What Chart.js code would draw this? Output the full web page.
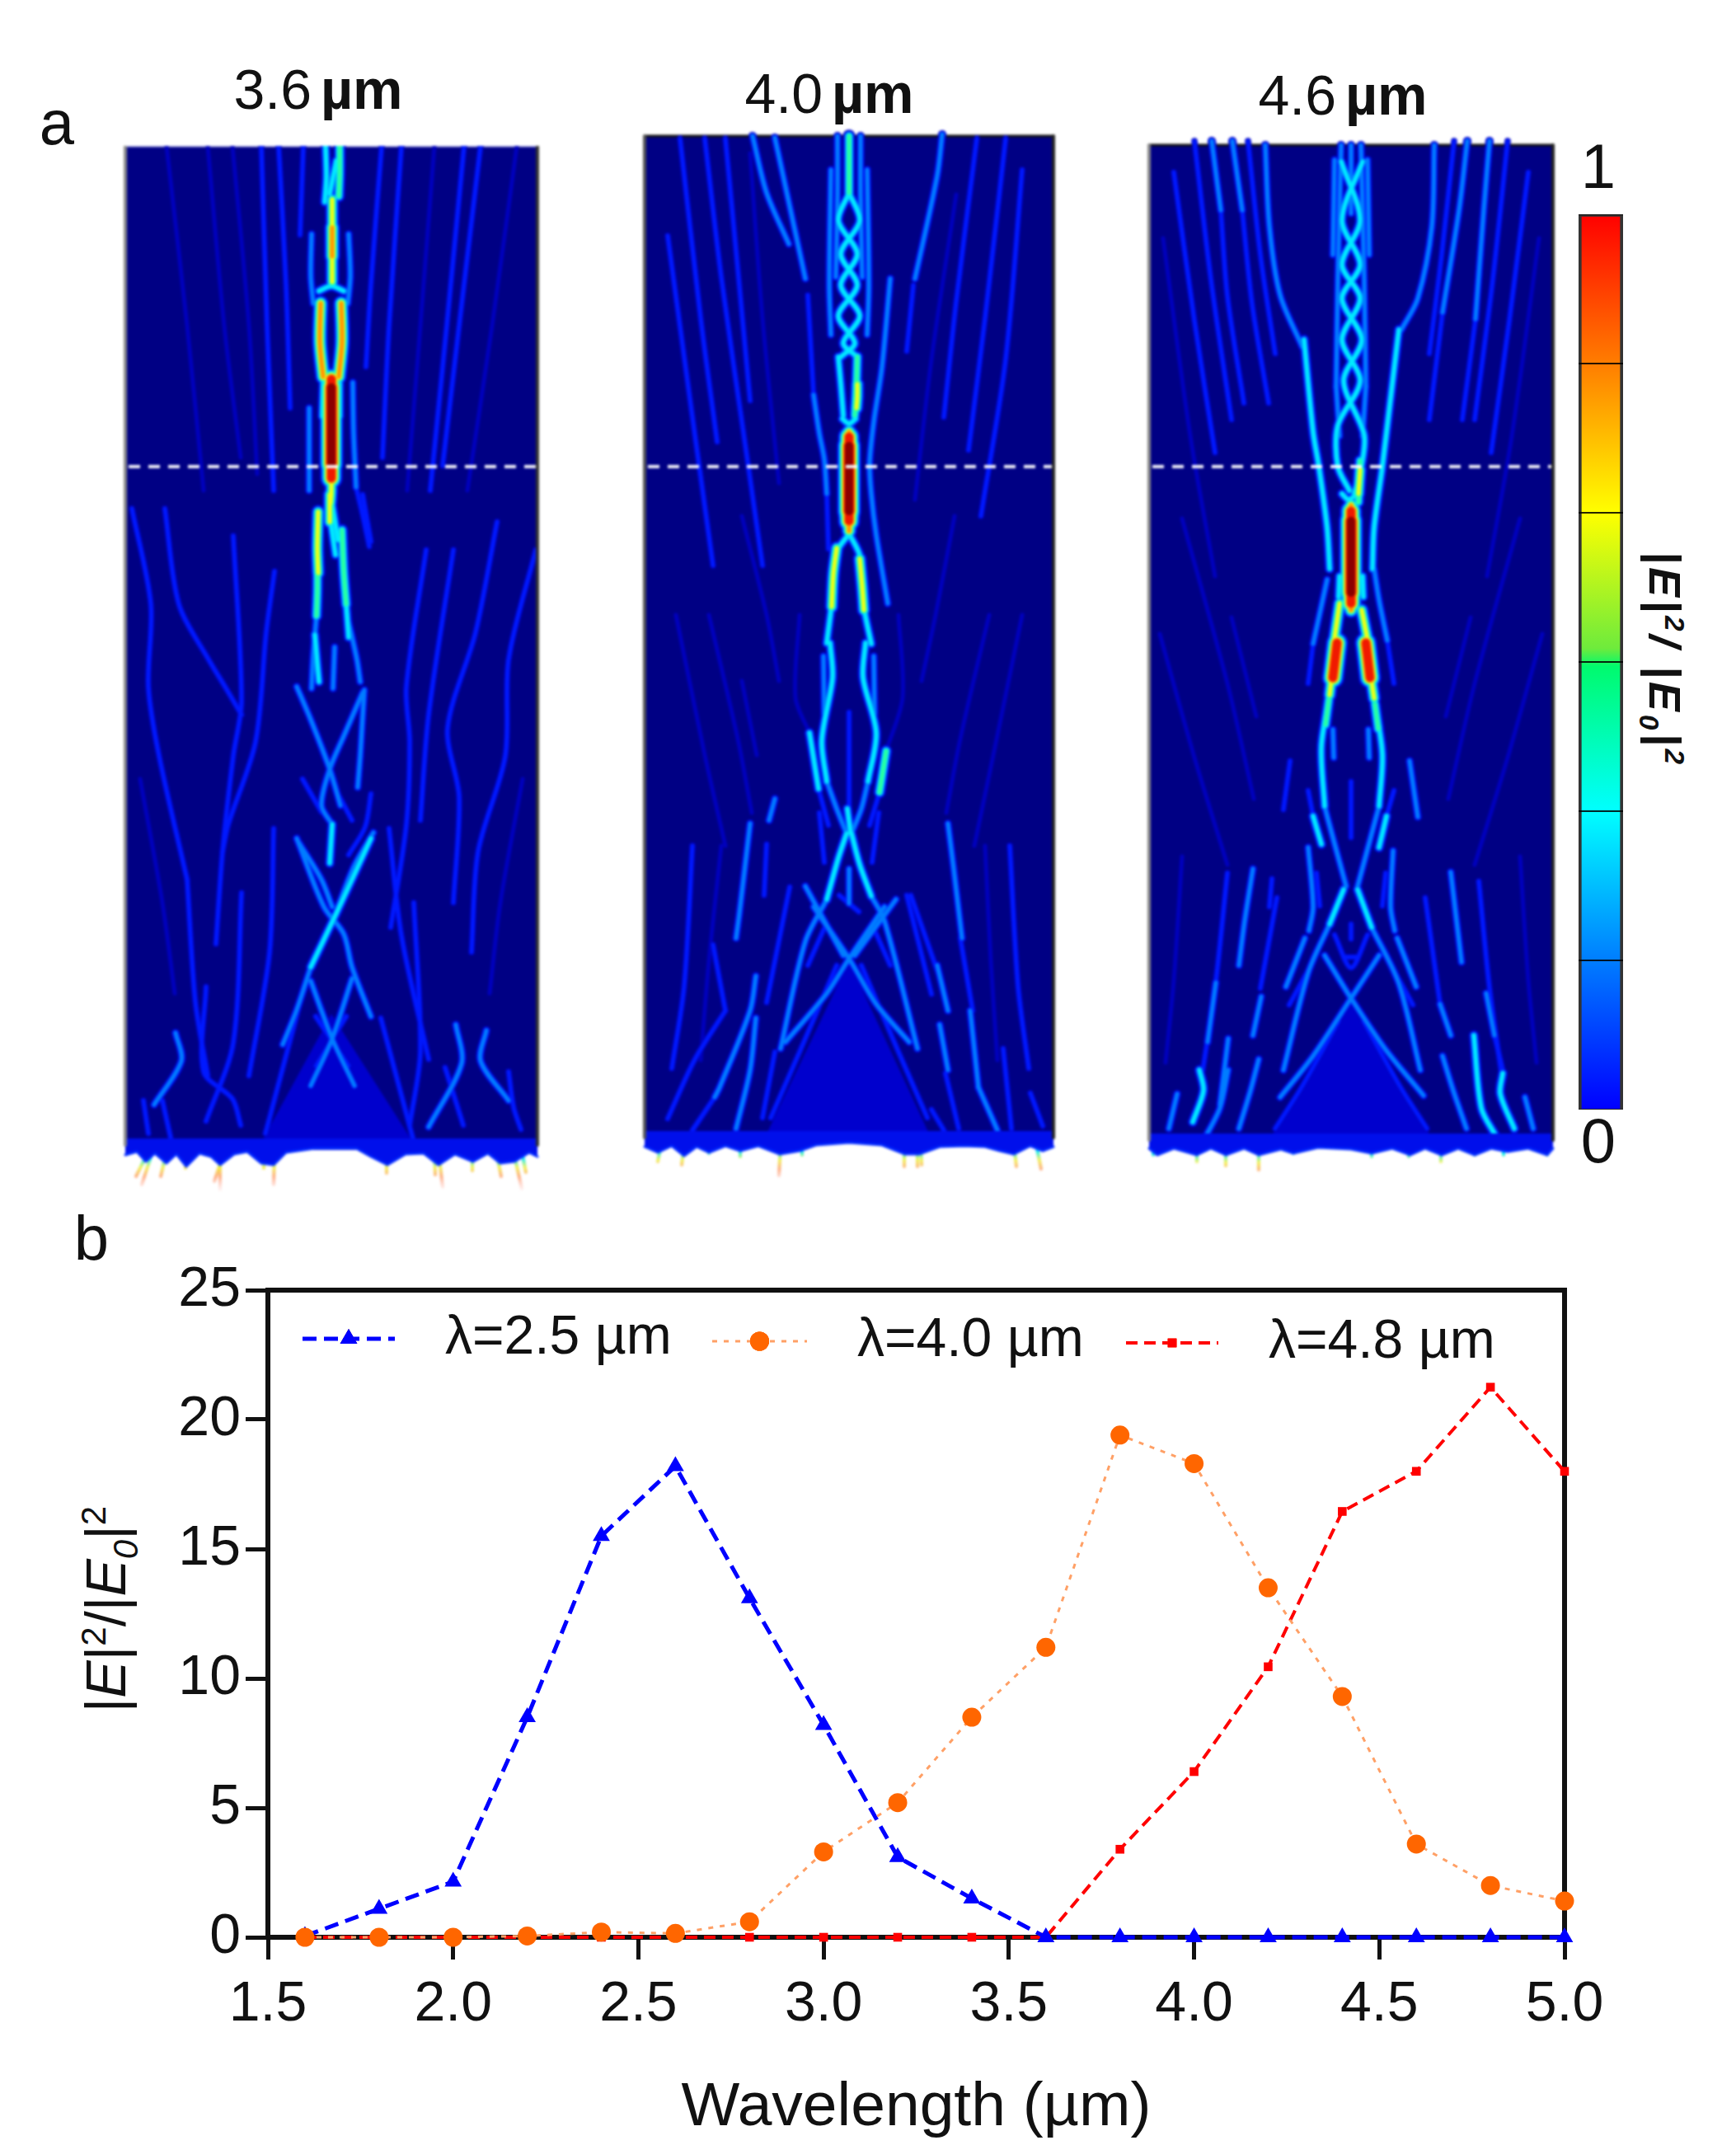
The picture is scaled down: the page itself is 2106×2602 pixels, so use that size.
<!DOCTYPE html>
<html>
<head>
<meta charset="utf-8">
<title>Field maps and enhancement spectra</title>
<script src="https://cdn.jsdelivr.net/npm/chart.js@4"></script>
<style>
  html, body { margin: 0; padding: 0; background: #fff; }
  body { width: 2106px; height: 2602px; position: relative; overflow: hidden; font-family: "Liberation Sans", Arial, sans-serif; color: #111; }
  canvas { position: absolute; display: block; }
  .map { filter: blur(1.7px); }
  .txt { position: absolute; white-space: nowrap; transform: translate(-50%, -50%); line-height: 1; }
  .rot { transform: translate(-50%, -50%) rotate(-90deg); }
  .rotcw { transform: translate(-50%, -50%) rotate(90deg); }
  sup, sub { font-size: 62%; line-height: 0; }
</style>
</head>
<body>
<div class="txt" style="left:69px;top:149px;font-size:76px">a</div>
<div class="txt" style="left:111px;top:1502px;font-size:76px">b</div>
<div class="txt" style="left:386px;top:108px;font-size:68px">3.6 <b style="margin-left:-8px">µm</b></div>
<div class="txt" style="left:1006px;top:113px;font-size:68px">4.0 <b style="margin-left:-8px">µm</b></div>
<div class="txt" style="left:1629px;top:115px;font-size:68px">4.6 <b style="margin-left:-8px">µm</b></div>
<div class="txt" style="left:1939px;top:202px;font-size:76px">1</div>
<div class="txt" style="left:1939px;top:1384px;font-size:76px">0</div>
<div class="txt rotcw" style="left:2020px;top:800px;font-size:54px;letter-spacing:4px"><b><i>|E|<sup>2</sup>/ |E<sub>0</sub>|<sup>2</sup></i></b></div>
<div class="txt rot" style="left:128px;top:1952px;font-size:68px">|<i>E</i>|<sup>2</sup>/|<i>E<sub>0</sub></i>|<sup>2</sup></div>

<canvas id="map36" class="map"></canvas>
<canvas id="map40" class="map"></canvas>
<canvas id="map46" class="map"></canvas>
<canvas id="colorbar"></canvas>
<canvas id="spectra"></canvas>

<script>
// ---- panel b values ----
const wavelengths = [1.6, 1.8, 2.0, 2.2, 2.4, 2.6, 2.8, 3.0, 3.2, 3.4, 3.6, 3.8, 4.0, 4.2, 4.4, 4.6, 4.8, 5.0];
const enh25 = [0.05, 1.1, 2.15, 8.5, 15.5, 18.2, 13.1, 8.2, 3.1, 1.5, 0, 0, 0, 0, 0, 0, 0, 0];
const enh40 = [0, 0, 0, 0.05, 0.2, 0.15, 0.6, 3.3, 5.2, 8.5, 11.2, 19.4, 18.3, 13.5, 9.3, 3.6, 2.0, 1.4];
const enh48 = [0, 0, 0, 0, 0, 0, 0, 0, 0, 0, 0, 3.4, 6.4, 10.45, 16.45, 18, 21.25, 18];
const seriesNames = ['λ=2.5 µm', 'λ=4.0 µm', 'λ=4.8 µm'];
const xTickStep = 0.5;
const yTickStep = 5;
const colorbarStep = 1 / 6;

// ---- panel a, field ridges: [peak level 0-8, x, z, x, z, ...]
// x = offset from the axis, z = height above the lower edge of the map
const ridges36 = [
  // hot core
  [3, -7,1218, -6,1180, -8,1150], [4, 10,1218, 10,1185, 9,1157], [3, 6,1200, -2,1160],
  [5, 1,1153, 1,1100, 1,1053], [6, 1,1119, 1,1084],
  [2, -24,1111, -25,1060, -22,1027], [2, 21,1111, 23,1060, 20,1027],
  [3, -15,1042, 0,1048, 15,1042],
  [6, -13,1027, -14,980, -10,938], [6, 12,1027, 13,980, 9,938],
  [7, 0,935, 0,880, 0,815], [8, 0,925, 0,880, 0,832], [5, 0,940, 0,800, -1,785], [3, -10,930, -11,890], [3, 10,930, 10,890],
  [2, -27,900, -27,850, -27,800], [2, 26,931, 27,870, 30,804], [1, 30,804, 38,770, 46,732],
  [5, -16,774, -17,730, -16,700], [4, -17,715, -17,680, -18,648], [5, -2,795, -2,762], [3, -2,770, 5,722],
  [4, 13,752, 15,702, 18,662], [3, 18,662, 21,622], [3, -20,625, -17,590, -15,568], [3, 0,790, 8,740],
  [2, -18,648, -22,600, -24,560], [2, 21,640, 31,595, 35,568], [2, 2,560, 4,610],
  [2, -42,562, -25,522, -2,462, 11,418], [2, 38,555, 15,502, -2,462, -12,418, 1,395], [3, 1,395, -2,348],
  [2, 40,558, 37,510, 35,478, 32,440], [2, -39,372, -12,328, 1,295], [2, 51,385, 28,345, 8,295], [1, 48,432, 41,392, 21,358], [1, 8,432, 25,400], [1, -35,450, -12,410],
  [3, 48,378, 5,285, -25,222], [2, -25,222, -42,170, -59,128], [2, -42,378, -9,295, 15,262, 25,222, 48,162],
  [2, -25,205, 1,135, 28,78], [2, 25,208, 1,135, -25,78], [1, -19,162, 21,102], [1, 18,162, -19,102], [1, -35,190, -80,20], [1, 60,160, 100,10],
  // side ridges near the foot
  [2, -189,142, -182,108, -215,55], [1, -152,198, -155,95, -120,62, -110,30], [1, -109,312, -119,130, -152,35],
  [2, 151,152, 158,105, 118,28], [2, 188,145, 181,108, 215,60], [1, 215,95, 221,52, 230,25], [1, 100,300, 108,120, 95,30], [1, -228,60, -222,20], [1, -205,60, -195,15], [1, 138,100, 160,30],
  // faint fan
  [1, -85,1218, -78,1000, -70,800], [1, -64,1218, -55,1050, -50,900], [1, -34,1218, -38,1110], [1, 61,1218, 48,1050, 42,950], [1, 85,1218, 70,1000, 62,840], [1, 161,1218, 140,1000, 120,800], [1, 181,1218, 155,1000, 135,830],
  [0, -150,1218, -130,1000, -110,840], [0, -200,1218, -175,1000, -155,800], [0, 125,1218, 108,1000, 92,800], [0, 225,1218, 195,1000, 165,800], [0, -120,1218, -100,1000, -90,820],
  [1, -242,778, -219,662, -222,562, -209,478, -175,328], [1, -202,778, -185,662, -149,595, -129,562, -109,528], [1, -119,745, -109,545, -119,478, -132,362, -140,250],
  [1, -69,702, -79,628, -92,495, -125,395, -132,362], [1, 38,795, 48,738], [1, 115,728, 91,562, 95,495, 91,395, 72,270], [1, 201,762, 175,628, 141,512, 155,428, 148,300],
  [1, 248,728, 215,595, 211,478, 178,362, 170,240], [1, 148,728, 118,528, 108,400], [1, -175,328, -165,180, -150,90], [0, -232,450, -205,300, -190,190], [0, 232,450, 205,300, 192,190], [1, -70,390, -75,240, -100,90], [1, 70,390, 85,260, 118,110]
];
const ridges40 = [
  // axis column
  [4, 0,1221, 0,1190, 0,1152], [2, -14,1221, -14,1150, -16,1050], [2, 14,1221, 14,1150, 16,1050], [2, -22,1180, -24,1040, -22,980], [2, 22,1180, 24,1040, 22,980],
  [3, 0,1152, -13,1118, 10,1078, -10,1040, 13,1003, -7,970, 10,953], [3, 0,1152, 13,1118, -10,1078, 10,1040, -13,1003, 7,970, -10,953],
  [3, -13,953, -10,920, -7,882], [4, 10,953, 9,920, 7,882], [5, 10,920, 10,905, 9,891], [3, -8,878, 0,872, 8,878],
  [6, 0,862, 0,800, 0,742], [7, 0,856, 0,800, 0,754], [8, 0,845, 0,805, 0,766], [3, -7,850, -8,760], [3, 7,850, 8,760],
  // branches under the focus
  [3, -1,737, -15,716, -21,654, -27,606], [5, -15,721, -19,690, -21,650], [3, 1,737, 13,712, 18,650, 27,605], [5, 13,708, 16,675, 18,646],
  [3, -23,606, -20,564, -33,488, -27,438], [2, -27,438, -15,405, -3,375], [2, -31,590, -30,520], [3, 20,606, 17,564, 33,497, 23,438], [2, 23,438, 15,405, 3,375], [2, 30,590, 31,520],
  [3, -48,497, -37,429], [4, 45,475, 37,425], [1, -37,429, -25,385], [1, 37,425, 25,385], [0, -60,640, -65,540, -48,497], [0, 60,640, 65,540, 45,475],
  // side arms
  [2, -43,907, -36,860, -30,829, -27,787], [1, -27,787, -25,720], [1, -50,1028, -43,907], [2, -117,1221, -100,1152, -73,1090], [2, -90,1219, -80,1173, -53,1048],
  [2, 50,1048, 40,941, 30,874, 25,824, 27,787, 33,737, 47,654], [2, 113,1223, 107,1173, 80,1048], [1, 78,1040, 70,960],
  [1, 0,522, 0,460, 0,395], [2, 0,332, 0,290], [3, -2,405, 2,375], [1, -36,400, -30,340], [1, 36,400, 28,340],
  // crossings
  [3, -3,375, -13,345, -27,295], [2, -27,295, -53,244, -83,114], [3, 3,375, 13,337, 27,299], [2, 27,299, 43,269, 83,114],
  [2, 43,286, 0,223, -27,181, -77,122], [2, -43,286, 0,223, 33,168, 73,122], [2, -53,311, -7,227], [2, 57,295, 7,227], [1, -12,300, 12,280], [1, 30,260, 50,215], [1, -30,260, -50,215], [1, 75,300, 110,200],
  [1, -15,215, -60,110, -95,30], [1, 15,215, 60,110, 95,30],
  // outer groups
  [2, -120,387, -133,278, -137,248], [2, -97,391, -90,417], [1, -100,362, -103,300], [2, -113,202, -120,160, -157,67, -163,55], [2, -113,151, -120,88, -137,17], [1, -150,160, -187,101, -220,29], [1, -165,240, -150,160],
  [2, 120,387, 127,332, 137,248], [2, 107,215, 120,160], [2, 110,143, 120,88], [2, 147,160, 157,67], [2, 157,67, 180,15], [1, 117,84, 133,17], [1, 187,114, 197,17], [1, 135,248, 150,160], [1, -90,110, -105,30], [1, -163,55, -190,15], [1, 220,60, 235,20], [1, 100,40, 115,15],
  [1, -72,310, -100,170], [1, 70,300, 100,180],
  // faint fan
  [1, -175,1218, -155,1050, -125,840, -105,700], [1, -150,1218, -135,1060, -120,900], [1, -205,1218, -180,1000, -160,850], [1, 155,1218, 130,1020, 115,880], [1, 190,1218, 165,1000, 145,840], [1, 210,1180, 190,950, 160,760], [1, -220,1100, -190,880, -165,700],
  [0, -120,1200, -105,1000, -85,800], [0, 130,1150, 100,950, 80,780], [0, -130,760, -100,640, -85,560], [0, 128,760, 105,640, 88,560], [0, -170,640, -135,490, -118,400], [0, 170,640, 135,490, 118,400], [0, -210,640, -175,470, -150,360], [0, 210,640, 175,470, 152,360], [0, -130,560, -112,470],
  [1, -190,360, -200,190, -215,90], [1, 195,360, 205,190, 218,90], [0, -155,360, -170,220, -180,100], [0, 165,360, 172,220, 180,100]
];
const ridges46 = [
  // axis column
  [2, -12,1213, -16,1050, -18,920], [2, 12,1213, 16,1050, 18,920], [2, -20,1195, -22,1080], [2, 20,1195, 22,1080], [2, 0,1213, 0,1130], [2, -18,920, -14,860], [2, 18,920, 14,860],
  [3, -12,1193, 11,1122, -11,1068, 11,1027, -11,977, 11,927, -16,873, -16,823, -2,794], [3, 14,1193, -11,1122, 11,1068, -11,1027, 13,977, -9,927, 16,861, 11,815, 4,790],
  [5, 11,819, 10,805, 9,790], [4, 11,830, 9,780], [3, -11,790, -3,783, 8,790],
  [6, 0,776, 0,710, 0,649], [7, 0,769, 0,710, 0,657], [8, 0,757, 0,712, 0,670], [3, -7,760, -7,660], [3, 7,760, 7,660],
  // branches under the focus
  [3, -14,690, -15,665], [3, 14,690, 15,665], [5, -14,657, -21,608], [5, 13,649, 21,608], [7, -17,609, -22,567], [7, 18,609, 23,567], [5, -22,580, -26,546], [5, 23,575, 28,542],
  [3, -26,546, -36,483, -32,411], [4, -27,540, -31,510], [4, 29,535, 33,505], [3, 28,542, 38,474, 34,411], [2, -22,504, -21,470], [2, 21,504, 22,470], [2, -32,411, -29,399, -6,314], [2, 34,411, 8,314],
  [1, 0,441, 0,373], [1, 0,268, 0,250], [3, -46,399, -36,365], [3, 43,399, 34,361], [1, -52,430, -46,399], [1, 52,430, 43,399],
  [2, -52,361, -46,289, -51,260], [2, 51,357, 48,289, 53,260], [1, -42,330, -38,290], [1, 42,330, 38,290],
  // side arms
  [3, -57,977, -46,865, -39,823, -29,749, -26,699], [3, 58,989, 48,906, 38,823, 28,749, 26,699], [2, 28,699, 34,661, 44,612], [2, -29,686, -46,608], [1, 44,612, 52,560], [1, -46,608, -52,560],
  [2, -169,1218, -158,1134], [2, -144,1218, -132,1134], [2, -104,1213, -99,1114, -86,1031, -59,968], [2, 101,1213, 98,1114, 81,1027, 61,989], [2, 141,1218, 131,1134, 111,1010], [2, 168,1218, 161,1134, 151,1002],
  [1, -158,1134, -150,1030, -130,900], [1, -132,1134, -120,1020, -100,900], [1, 111,1010, 95,880], [1, 151,1002, 135,880],
  // crossings
  [3, -9,310, -26,268], [2, -26,268, -52,209, -82,91], [3, 8,310, 25,264], [2, 25,264, 58,196, 84,91], [2, -56,251, -79,192], [2, 56,251, 79,192], [2, 34,230, 0,178, -46,108, -86,58], [2, -32,230, 0,178, 41,117, 88,60], [1, -20,255, 0,215, 20,255], [1, -8,228, 8,228],
  [1, -15,150, -60,70, -92,20], [1, 15,150, 60,70, 92,20], [1, -75,170, -45,225], [1, 75,170, 45,225],
  // outer groups
  [1, -74,466, -82,407], [2, -119,335, -129,272, -136,218], [1, -96,323, -99,289], [2, 71,466, 81,398], [2, 121,331, 134,222],
  [2, -164,197, -174,125], [2, -109,180, -119,133], [2, -149,129, -159,49], [3, -184,91, -179,66, -192,28], [2, -211,62, -221,20], [2, -112,104, -122,66, -136,20], [2, -149,91, -159,45, -176,11], [1, -90,300, -110,190], [1, 90,300, 108,171],
  [2, 108,171, 121,133], [2, 111,108, 124,66, 140,20], [3, 149,133, 158,45, 175,12], [3, 184,87, 181,62, 198,20], [2, 211,58, 221,20], [2, 164,184, 174,133], [1, 174,133, 185,87],
  // faint fan
  [1, -190,1218, -170,1050, -145,880], [1, -215,1180, -190,1000, -165,840], [1, 190,1218, 172,1050, 150,880], [1, 215,1180, 192,1000, 170,840], [1, 125,1218, 110,1080, 95,960], [1, -125,1218, -110,1080, -92,960],
  [0, -228,1100, -195,860, -165,690], [0, 228,1100, 195,860, 165,690], [0, -205,760, -150,560, -118,420], [0, 205,760, 150,560, 118,420], [0, -232,620, -190,470, -150,340], [0, 232,620, 190,470, 150,340], [0, -145,640, -115,520], [0, 145,640, 115,520],
  [1, -150,330, -165,190, -180,90], [1, 155,320, 168,190, 182,90], [0, -205,350, -215,200, -225,100], [0, 205,350, 215,200, 225,100]
];

// bright triangle above the grating: x, z
const wedge36 = [-90, 0, 0, 165, 105, 0];
const wedge40 = [-105, 0, 0, 220, 102, 0];
const wedge46 = [-103, 0, 0, 172, 103, 0];

// jagged lower rim: x, z
const rim36 = [-250,-6,-236,-2,-225,-14,-214,-4,-200,-16,-188,-5,-176,-20,-160,-4,-146,-8,-135,-18,-118,-5,-102,-2,-85,-16,-70,-18,-55,-3,-20,2,30,2,48,-8,68,-18,90,-5,112,-4,130,-18,150,-5,172,-14,190,-4,205,-16,222,-14,240,-3,250,-8];
const rim40 = [-248,-5,-232,-12,-215,-4,-200,-16,-185,-5,-170,-12,-150,-4,-132,-10,-110,-4,-84,-14,-60,-10,-40,-3,0,0,40,-3,68,-14,85,-14,110,-5,140,-4,165,-5,183,-10,200,-14,220,-4,235,-10,248,-5];
const rim46 = [-245,-4,-235,-12,-215,-4,-187,-12,-170,-4,-152,-12,-130,-4,-112,-12,-85,-5,-70,-10,-40,-3,0,-5,25,-10,50,-4,72,-12,90,-4,110,-12,130,-4,150,-12,170,-4,190,-8,215,-4,238,-12,245,-4];

// spikes under the rim: x at rim, x at tip, z at tip
const spikes36 = [[-222,-237,-32],[-217,-230,-42],[-200,-207,-32],[-174,-177,-22],[-135,-135,-50],[-130,-142,-38],[-69,-70,-42],[-82,-82,-22],[67,67,-28],[130,135,-45],[125,126,-30],[171,171,-25],[200,206,-32],[221,231,-47],[231,236,-27]];
const spikes40 = [[-228,-232,-23],[-200,-203,-27],[-170,-170,-13],[-132,-132,-17],[-83,-85,-40],[-57,-57,-15],[67,67,-29],[83,83,-29],[87,88,-27],[200,203,-29],[227,233,-32]];
const spikes46 = [[-240,-240,-12],[-187,-187,-20],[-152,-152,-25],[-112,-112,-30],[-70,-70,-10],[25,25,-14],[70,70,-14],[109,109,-20],[150,150,-12],[185,185,-12],[238,238,-12]];

// ---- geometry and styles ----
const mapPanels = [
  { id: 'map36', ridges: ridges36, wedge: wedge36, rim: rim36, spikes: spikes36, axisX: 402, baseY: 1395, halfW: 250, H: 1218, over: 0, dashZ: 829, left: '#8a8a8a', right: '#333', top: '#9a9ae0' },
  { id: 'map40', ridges: ridges40, wedge: wedge40, rim: rim40, spikes: spikes40, axisX: 1030, baseY: 1386, halfW: 248, H: 1221, over: 18, dashZ: 820, left: '#555', right: '#222', top: '#111' },
  { id: 'map46', ridges: ridges46, wedge: wedge46, rim: rim46, spikes: spikes46, axisX: 1639, baseY: 1389, halfW: 245, H: 1213, over: 14, dashZ: 823, left: '#888', right: '#222', top: '#111' }
];
const levelColors = ['rgb(0,0,190)', 'rgb(0,25,255)', 'rgb(0,125,255)', 'rgb(0,235,255)', 'rgb(40,255,160)', 'rgb(240,255,20)', 'rgb(255,150,0)', 'rgb(240,25,0)', 'rgb(140,0,0)'];
const margin = 6, below = 50;

function pairs(a, off) {
  const p = [];
  for (let i = off; i < a.length; i += 2) p.push({ x: a[i], y: a[i + 1] });
  return p;
}

function lineWidth(peak, level) {
  return 5 + (peak - level) * 2.6 + (peak >= 7 ? 5 : 0);
}

function spikeGradient(c) {
  const { chart } = c;
  if (!chart.chartArea) return 'rgb(0,235,255)';
  const y = chart.scales.y;
  const g = chart.ctx.createLinearGradient(0, y.getPixelForValue(0), 0, y.getPixelForValue(-below));
  g.addColorStop(0, 'rgb(0,120,255)');
  g.addColorStop(0.2, 'rgb(0,235,255)');
  g.addColorStop(0.42, 'rgba(240,240,60,0.85)');
  g.addColorStop(0.65, 'rgba(255,140,80,0.7)');
  g.addColorStop(1, 'rgba(255,170,170,0.1)');
  return g;
}

function buildMap(p) {
  const sets = [];
  const plain = { type: 'line', pointRadius: 0, borderCapStyle: 'round', borderJoinStyle: 'round' };
  // navy field
  sets.push({ ...plain, data: [{ x: -p.halfW, y: p.H }, { x: p.halfW, y: p.H }], borderWidth: 0, borderColor: 'rgba(0,0,0,0)', backgroundColor: 'rgb(0,0,132)', fill: { value: 0 }, order: 300 });
  // bright wedge and rim
  sets.push({ ...plain, data: pairs(p.wedge, 0), borderWidth: 0, borderColor: 'rgba(0,0,0,0)', backgroundColor: 'rgb(0,0,205)', fill: { value: 0 }, order: 290 });
  sets.push({ ...plain, data: pairs(p.rim, 0), borderWidth: 3, borderColor: 'rgb(0,40,255)', backgroundColor: 'rgb(0,15,235)', fill: { value: 14 }, order: 20 });
  // ridges, cool layers first
  p.ridges.forEach(r => {
    const pts = pairs(r, 1);
    for (let level = 0; level <= r[0]; level++) {
      sets.push({ ...plain, data: pts, borderColor: levelColors[level], borderWidth: lineWidth(r[0], level), tension: 0.3, order: 100 - level });
    }
  });
  p.spikes.forEach(s => {
    sets.push({ ...plain, data: [{ x: s[0], y: -2 }, { x: s[1], y: s[2] }], borderColor: spikeGradient, borderWidth: 4, order: 30 });
  });
  // dashed white line and frame
  sets.push({ ...plain, data: [{ x: -p.halfW + 4, y: p.dashZ }, { x: p.halfW + margin, y: p.dashZ }], borderColor: 'rgba(255,255,255,0.95)', borderWidth: 4, borderCapStyle: 'butt', borderDash: [14, 10], order: 10 });
  sets.push({ ...plain, data: [{ x: -p.halfW, y: 6 }, { x: -p.halfW, y: p.H }], borderColor: p.left, borderWidth: 4, order: 5 });
  sets.push({ ...plain, data: [{ x: p.halfW, y: 6 }, { x: p.halfW, y: p.H }], borderColor: p.right, borderWidth: 4, order: 5 });
  sets.push({ ...plain, data: [{ x: -p.halfW, y: p.H }, { x: p.halfW, y: p.H }], borderColor: p.top, borderWidth: 3, order: 200 });
  return sets;
}

mapPanels.forEach(p => {
  const cv = document.getElementById(p.id);
  const w = 2 * (p.halfW + margin), h = p.H + p.over + below;
  cv.width = w; cv.height = h;
  cv.style.left = (p.axisX - p.halfW - margin) + 'px';
  cv.style.top = (p.baseY - p.H - p.over) + 'px';
  cv.style.width = w + 'px'; cv.style.height = h + 'px';
  new Chart(cv, {
    type: 'line',
    data: { datasets: buildMap(p) },
    options: {
      responsive: false, animation: false, devicePixelRatio: 1, events: [],
      layout: { padding: 0 },
      plugins: { legend: { display: false }, tooltip: { enabled: false } },
      scales: {
        x: { type: 'linear', display: false, min: -p.halfW - margin, max: p.halfW + margin },
        y: { type: 'linear', display: false, min: -below, max: p.H + p.over }
      }
    }
  });
});

// ---- colour bar ----
const cb = document.getElementById('colorbar');
cb.width = 54; cb.height = 1086;
cb.style.cssText = 'left:1915px;top:260px;width:54px;height:1086px;filter:blur(0.7px)';
function barGradient(c) {
  const { chart } = c;
  if (!chart.chartArea) return '#00f';
  const g = chart.ctx.createLinearGradient(0, chart.chartArea.bottom, 0, chart.chartArea.top);
  g.addColorStop(0, 'rgb(0,0,255)');
  g.addColorStop(1 / 6, 'rgb(0,125,255)');
  g.addColorStop(2 / 6, 'rgb(0,255,255)');
  g.addColorStop(0.495, 'rgb(0,250,110)');
  g.addColorStop(0.515, 'rgb(110,235,60)');
  g.addColorStop(4 / 6, 'rgb(255,255,0)');
  g.addColorStop(5 / 6, 'rgb(255,125,0)');
  g.addColorStop(1, 'rgb(255,0,0)');
  return g;
}
new Chart(cb, {
  type: 'bar',
  data: { labels: ['|E|²/|E0|²'], datasets: [{ data: [1], backgroundColor: barGradient, borderColor: '#333', borderWidth: { left: 4, right: 4, top: 3, bottom: 2 }, barPercentage: 1, categoryPercentage: 1 }] },
  options: {
    responsive: false, animation: false, devicePixelRatio: 1, events: [],
    layout: { padding: 0 },
    plugins: { legend: { display: false }, tooltip: { enabled: false } },
    scales: {
      x: { display: false },
      y: {
        min: 0, max: 1,
        afterFit: s => { s.width = 0; },
        ticks: { display: false, stepSize: colorbarStep },
        border: { display: false },
        grid: { z: 2, drawTicks: false, color: 'rgba(0,0,0,0.85)', lineWidth: 2, tickBorderDash: [], borderDash: [10, 34] }
      }
    }
  }
});

// ---- panel b ----
const chartLeft = 325, chartRight = 1898, chartTop = 1565, chartBottom = 2350, canvasTop = 1500;
const blueLine = '#0000ff', orangeLine = '#ffa066', orangeDot = '#ff6600', redLine = '#ff0000';
const legendItems = [
  { x0: 367, x1: 479, y: 1624, tx: 540 },
  { x0: 864, x1: 979, y: 1627, tx: 1040 },
  { x0: 1366, x1: 1478, y: 1629, tx: 1539 }
];

// inline legend: sample line with its marker, then the name
const inlineLegend = {
  id: 'inlineLegend',
  afterDraw(chart) {
    const ctx = chart.ctx;
    chart.data.datasets.forEach((d, i) => {
      const it = legendItems[i], y = it.y - canvasTop;
      ctx.save();
      ctx.strokeStyle = d.borderColor; ctx.lineWidth = d.borderWidth; ctx.setLineDash(d.borderDash);
      ctx.beginPath(); ctx.moveTo(it.x0, y); ctx.lineTo(it.x1, y); ctx.stroke();
      ctx.setLineDash([]);
      Chart.helpers.drawPoint(ctx, { pointStyle: d.pointStyle, radius: d.pointRadius, borderWidth: 0 }, (it.x0 + it.x1) / 2, y);
      ctx.restore();
      ctx.save();
      ctx.fillStyle = d.pointBackgroundColor;
      ctx.beginPath();
      Chart.helpers.drawPoint(ctx, { pointStyle: d.pointStyle, radius: d.pointRadius, borderWidth: 0 }, (it.x0 + it.x1) / 2, y);
      ctx.fill();
      ctx.restore();
      ctx.save();
      ctx.font = '66px "Liberation Sans", Arial, sans-serif';
      ctx.fillStyle = '#111'; ctx.textBaseline = 'middle';
      ctx.fillText(seriesNames[i], it.tx, y);
      ctx.restore();
    });
  }
};

const sp = document.getElementById('spectra');
sp.width = 2106; sp.height = 1102;
sp.style.cssText = 'left:0;top:' + canvasTop + 'px;width:2106px;height:1102px;filter:blur(0.5px)';
const toPts = vals => wavelengths.map((x, i) => ({ x, y: vals[i] }));
const tickFont = { family: '"Liberation Sans", Arial, sans-serif', size: 68 };
new Chart(sp, {
  type: 'line',
  data: {
    datasets: [
      { label: seriesNames[0], data: toPts(enh25), borderColor: blueLine, borderWidth: 5, borderDash: [17, 9], pointStyle: 'triangle', pointRadius: 12, pointBackgroundColor: blueLine, pointBorderWidth: 0, clip: false, order: 2 },
      { label: seriesNames[1], data: toPts(enh40), borderColor: orangeLine, borderWidth: 3, borderDash: [6, 8], pointStyle: 'circle', pointRadius: 11.5, pointBackgroundColor: orangeDot, pointBorderWidth: 0, clip: false, order: 1 },
      { label: seriesNames[2], data: toPts(enh48), borderColor: redLine, borderWidth: 4, borderDash: [14, 8], pointStyle: 'rect', pointRadius: 7.5, pointBackgroundColor: redLine, pointBorderWidth: 0, clip: false, order: 3 }
    ]
  },
  options: {
    responsive: false, animation: false, devicePixelRatio: 1, events: [],
    layout: { padding: { left: 0, right: 2106 - chartRight, top: chartTop - canvasTop, bottom: 0 } },
    plugins: { legend: { display: false }, tooltip: { enabled: false } },
    scales: {
      x: {
        type: 'linear', min: 1.5, max: 5, position: 'bottom',
        afterFit: s => { s.height = 2602 - chartBottom; },
        border: { color: '#111', width: 6 },
        grid: { drawOnChartArea: false, color: '#111', tickLength: 27, tickWidth: 5 },
        ticks: { stepSize: xTickStep, color: '#111', font: tickFont, padding: 14, maxRotation: 0, autoSkip: false, callback: v => v.toFixed(1) },
        title: { display: true, text: 'Wavelength (µm)', color: '#111', font: { family: tickFont.family, size: 75 }, padding: { top: 2, bottom: 0 } }
      },
      y: {
        type: 'linear', min: 0, max: 25, position: 'left',
        afterFit: s => { s.width = chartLeft; },
        border: { color: '#111', width: 6 },
        grid: { drawOnChartArea: false, color: '#111', tickLength: 27, tickWidth: 5 },
        ticks: { stepSize: yTickStep, color: '#111', font: tickFont, padding: 6 }
      },
      xTop: {
        type: 'linear', min: 1.5, max: 5, position: 'top',
        afterFit: s => { s.height = 0; },
        border: { color: '#111', width: 6 },
        grid: { display: false, drawTicks: false }, ticks: { display: false }
      },
      yRight: {
        type: 'linear', min: 0, max: 25, position: 'right',
        afterFit: s => { s.width = 0; },
        border: { color: '#111', width: 6 },
        grid: { display: false, drawTicks: false }, ticks: { display: false }
      }
    }
  },
  plugins: [inlineLegend]
});
</script>
</body>
</html>
